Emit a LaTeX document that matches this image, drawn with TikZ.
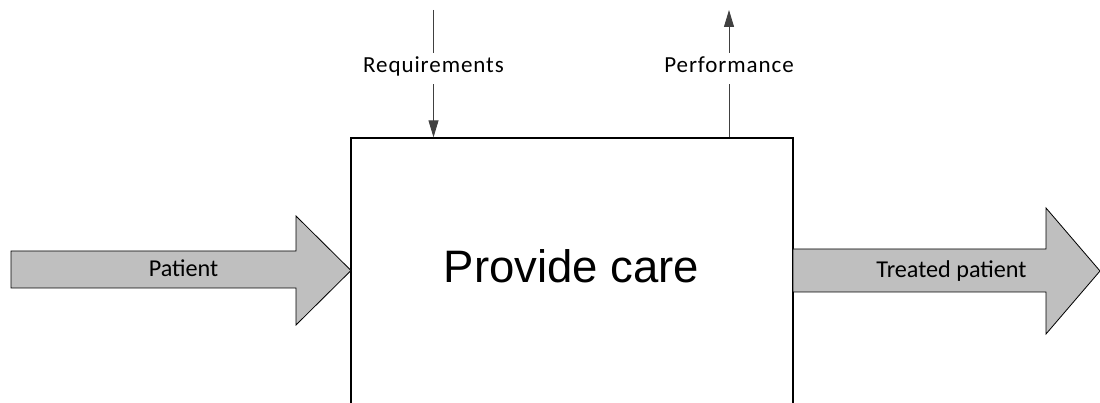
\documentclass[tikz,border=0pt]{standalone}
\usepackage{fontspec}
\setmainfont{Carlito}
\newfontfamily\titlefont{Liberation Sans}
\newfontfamily\sigfont[LetterSpace=4]{Carlito}
\usetikzlibrary{arrows.meta}

\tikzset{
  flowarrow/.style={draw=black, line width=0.8pt, fill=black!25, line join=miter},
  flowlabel/.style={inner sep=0pt, font=\fontsize{24.2}{28}\selectfont, text=black},
  siglabel/.style={font=\sigfont\fontsize{23}{26}\selectfont, text=black,
    text height=11pt, text depth=2pt, inner xsep=0pt, inner ysep=9pt, anchor=base},
  sigline/.style={draw=black!75, line width=0.9pt},
  sigtip/.style={-{Triangle[length=17pt,width=10pt]}},
  processbox/.style={draw=black, line width=1.3pt, minimum width=442pt, minimum height=330pt, inner sep=0pt}
}

\begin{document}
\begin{tikzpicture}[x=1pt,y=-1pt]
  \useasboundingbox (0,0) rectangle (1100,403);

  % process box (runs past the lower edge of the page)
  \node[processbox] (care) at (572,303) {};
  \node[anchor=base, font=\titlefont\fontsize{45.5}{50}\selectfont] (caretext) at (571.5,283) {Provide care};

  % input: patient
  \draw[flowarrow] (11,251) -- (296,251) -- (296,216) -- (351,270.5) -- (296,325) -- (296,288) -- (11,288) -- cycle;
  \node[flowlabel, anchor=base] (patient) at (183.5,277) {Patient};

  % output: treated patient
  \draw[flowarrow] (793,249) -- (1046,249) -- (1046,208) -- (1100,271) -- (1046,334) -- (1046,292) -- (793,292) -- cycle;
  \node[flowlabel, anchor=base] (treated) at (951.5,278) {Treated patient};

  % control: requirements
  \coordinate (reqtop) at (433.5,10);
  \node[siglabel] (req) at (433.5,73) {Requirements};
  \draw[sigline] (reqtop) -- (req.north);
  \draw[sigline, sigtip] (req.south) -- (req.south |- care.north);

  % output upward: performance
  \coordinate (perftop) at (729,10);
  \node[siglabel] (perf) at (729,73) {Performance};
  \draw[sigline] (perf.south |- care.north) -- (perf.south);
  \draw[sigline, sigtip] (perf.north) -- (perftop);
\end{tikzpicture}
\end{document}
